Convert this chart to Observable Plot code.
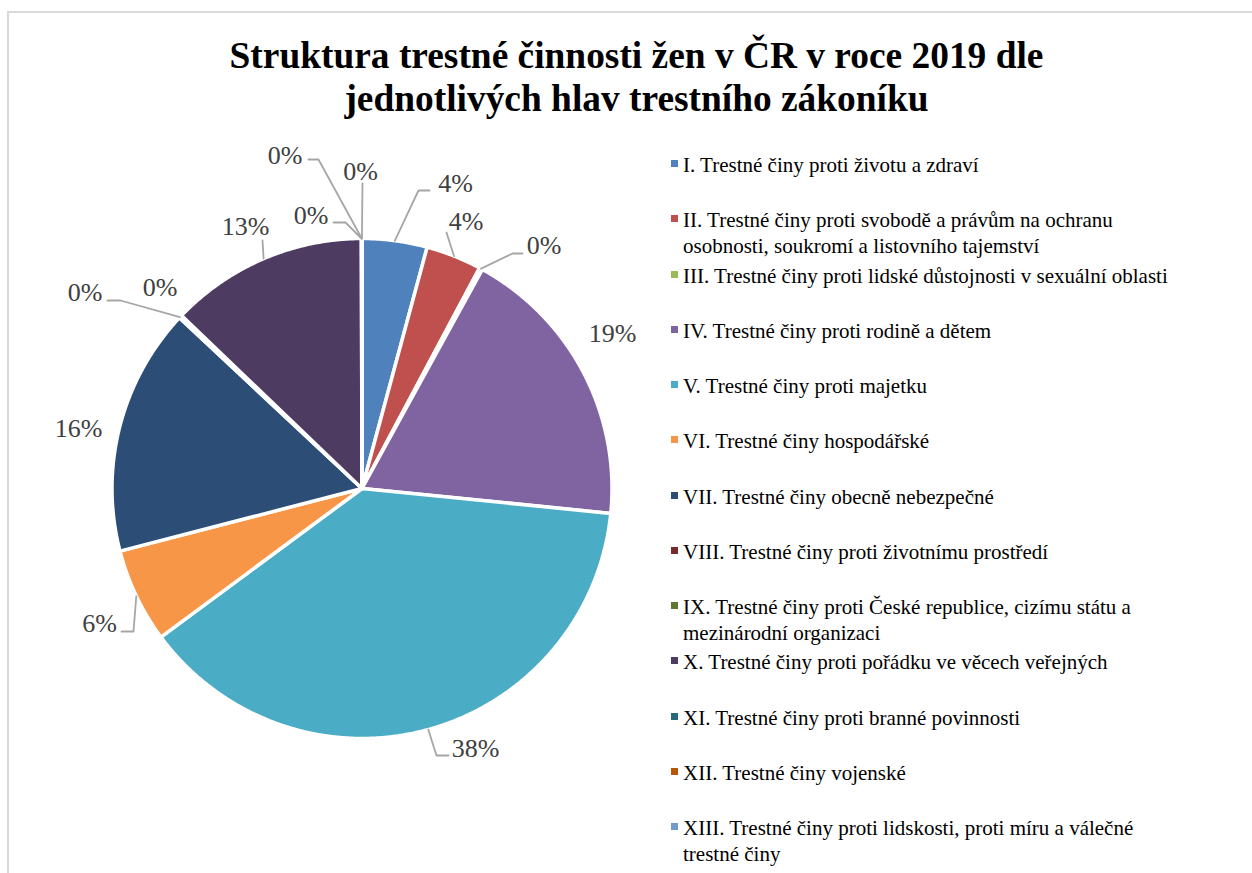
<!DOCTYPE html>
<html><head><meta charset="utf-8">
<script src="https://cdn.jsdelivr.net/npm/d3@7"></script>
<script src="https://cdn.jsdelivr.net/npm/@observablehq/plot@0.6"></script>
<style>
body{margin:0;background:#fff;}
#wrap{position:relative;width:1252px;height:873px;overflow:hidden;font-family:"Liberation Serif","Times New Roman",serif;background:#fff;}
#frame{position:absolute;left:7px;top:11px;width:1300px;height:900px;border-top:2px solid #d9d9d9;border-left:2px solid #d9d9d9;}
#title{position:absolute;left:0;width:1273px;top:34px;text-align:center;font-weight:bold;font-size:37.4px;line-height:43px;color:#000;}
#chart{position:absolute;left:0;top:0;}
#legend{position:absolute;left:671px;top:0;}
.item{position:absolute;left:0;font-size:21px;line-height:26px;color:#000;white-space:nowrap;}
.sw{position:absolute;left:0;top:8px;width:7px;height:7px;}
.txt{position:absolute;left:12px;top:0;}
</style>
</head>
<body>
<div id="wrap">
  <div id="frame"></div>
  <div id="chart"></div>
  <div id="title">Struktura trestné činnosti žen v ČR v roce 2019 dle<br>jednotlivých hlav trestního zákoníku</div>
  <div id="legend"></div>
</div>
<script>
// ---- data ----
const categories = [
  "I. Trestné činy proti životu a zdraví",
  "II. Trestné činy proti svobodě a právům na ochranu osobnosti, soukromí a listovního tajemství",
  "III. Trestné činy proti lidské důstojnosti v sexuální oblasti",
  "IV. Trestné činy proti rodině a dětem",
  "V. Trestné činy proti majetku",
  "VI. Trestné činy hospodářské",
  "VII. Trestné činy obecně nebezpečné",
  "VIII. Trestné činy proti životnímu prostředí",
  "IX. Trestné činy proti České republice, cizímu státu a mezinárodní organizaci",
  "X. Trestné činy proti pořádku ve věcech veřejných",
  "XI. Trestné činy proti branné povinnosti",
  "XII. Trestné činy vojenské",
  "XIII. Trestné činy proti lidskosti, proti míru a válečné trestné činy"
];
const legendLines = [
  ["I. Trestné činy proti životu a zdraví"],
  ["II. Trestné činy proti svobodě a právům na ochranu", "osobnosti, soukromí a listovního tajemství"],
  ["III. Trestné činy proti lidské důstojnosti v sexuální oblasti"],
  ["IV. Trestné činy proti rodině a dětem"],
  ["V. Trestné činy proti majetku"],
  ["VI. Trestné činy hospodářské"],
  ["VII. Trestné činy obecně nebezpečné"],
  ["VIII. Trestné činy proti životnímu prostředí"],
  ["IX. Trestné činy proti České republice, cizímu státu a", "mezinárodní organizaci"],
  ["X. Trestné činy proti pořádku ve věcech veřejných"],
  ["XI. Trestné činy proti branné povinnosti"],
  ["XII. Trestné činy vojenské"],
  ["XIII. Trestné činy proti lidskosti, proti míru a válečné", "trestné činy"]
];
// share of offences (%)
const shares = [4.2, 3.6, 0.2, 18.6, 38.3, 6.1, 16.0, 0.1, 0.1, 12.8, 0.02, 0.01, 0.01];
const colors = ["#4F81BD", "#C0504D", "#9BBB59", "#8064A2", "#4BACC6", "#F79646", "#2C4D75",
                "#772C2A", "#5F7530", "#4D3B62", "#276A7C", "#B65708", "#729ACA"];

// ---- label layout (in pie radii, centre = 0,0) ----
const labelPos = [[0.374,1.22],[0.416,1.068],[0.728,0.972],[1.002,0.62],[0.454,-1.04],[-1.05,-0.54],
  [-1.134,0.24],[-1.108,0.784],[-0.808,0.804],[-0.466,1.048],[-0.204,1.092],[-0.308,1.332],[-0.006,1.268]];
const leaderBends = [
  [[0.226,1.192],[0.27,1.192]], [[0.338,1.024]], [[0.602,0.94],[0.642,0.94]], null,
  [[0.298,-1.068],[0.346,-1.068]], [[-0.914,-0.572],[-0.962,-0.572]], null,
  [[-0.966,0.752],[-1.018,0.752]], null, [[-0.398,0.992]],
  [[-0.066,1.064],[-0.114,1.064]], [[-0.174,1.316],[-0.214,1.316]], [[0.002,1.22]]
];

// ---- build geometry ----
const total = d3.sum(shares);
const arcs = d3.pie().sort(null).value(d => d)(shares);
const slicePts = [];
arcs.forEach((a, i) => {
  const cat = categories[i];
  slicePts.push({cat, x: 0, y: 0});
  const n = Math.max(2, Math.ceil((a.endAngle - a.startAngle) / 0.005));
  for (let k = 0; k <= n; k++) {
    const t = a.startAngle + (a.endAngle - a.startAngle) * k / n;
    slicePts.push({cat, x: Math.sin(t), y: Math.cos(t)});
  }
  slicePts.push({cat, x: 0, y: 0});
});
const leaderPts = [];
arcs.forEach((a, i) => {
  if (!leaderBends[i]) return;
  const m = (a.startAngle + a.endAngle) / 2;
  leaderPts.push({cat: categories[i], x: Math.sin(m), y: Math.cos(m)});
  leaderBends[i].forEach(p => leaderPts.push({cat: categories[i], x: p[0], y: p[1]}));
});
const labels = shares.map((v, i) => ({
  cat: categories[i], x: labelPos[i][0], y: labelPos[i][1],
  text: Math.round(v / total * 100) + "%"
}));

const W = 660, H = 873, R = 250, CX = 361.5, CY = 488;
const chart = Plot.plot({
  width: W, height: H, margin: 0,
  style: {background: "transparent", overflow: "visible"},
  x: {domain: [-CX / R, (W - CX) / R], axis: null},
  y: {domain: [-(H - CY) / R, CY / R], axis: null},
  color: {domain: categories, range: colors},
  marks: [
    Plot.line(slicePts, {x: "x", y: "y", z: "cat", fill: "cat", stroke: "white", strokeWidth: 3.5, strokeLinejoin: "round"}),
    Plot.line(leaderPts, {x: "x", y: "y", z: "cat", stroke: "#a6a6a6", strokeWidth: 1.8}),
    Plot.text(labels, {x: "x", y: "y", text: "text", fontSize: 26, fill: "#404040",
      fontFamily: "Liberation Serif, Times New Roman, serif"})
  ]
});
document.getElementById("chart").appendChild(chart);

// ---- legend ----
const legend = d3.select("#legend");
legendLines.forEach((lines, i) => {
  const it = legend.append("div").attr("class", "item").style("top", (152 + 55.25 * i) + "px");
  it.append("div").attr("class", "sw").style("background", colors[i]);
  it.append("div").attr("class", "txt").html(lines.join("<br>"));
});
</script>
</body></html>
